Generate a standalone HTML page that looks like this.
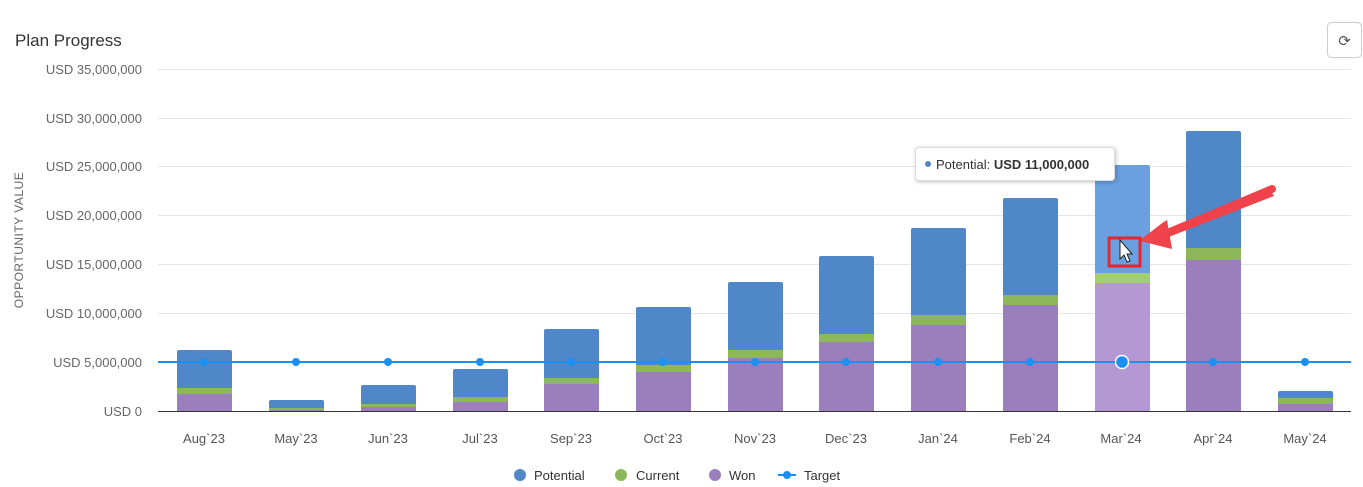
<!DOCTYPE html>
<html><head><meta charset="utf-8"><style>
body{margin:0;background:#fff;}
svg{display:block;font-family:"Liberation Sans",Arial,sans-serif;}
</style></head><body>
<svg width="1363" height="487" viewBox="0 0 1363 487" xmlns="http://www.w3.org/2000/svg">
<rect width="1363" height="487" fill="#fff"/>
<text x="15" y="46" font-size="17" fill="#333">Plan Progress</text>
<rect x="1327.5" y="22.5" width="34" height="35" rx="4" fill="#fff" stroke="#ccc"/>
<text x="1344.5" y="46" font-size="15" fill="#555" text-anchor="middle">⟳</text>
<g stroke="#e6e6e6" stroke-width="1">
<line x1="158" y1="69.5" x2="1351" y2="69.5"/>
<line x1="158" y1="118.5" x2="1351" y2="118.5"/>
<line x1="158" y1="166.5" x2="1351" y2="166.5"/>
<line x1="158" y1="215.5" x2="1351" y2="215.5"/>
<line x1="158" y1="264.5" x2="1351" y2="264.5"/>
<line x1="158" y1="313.5" x2="1351" y2="313.5"/>
<line x1="158" y1="362.5" x2="1351" y2="362.5"/>
</g>
<g font-size="13" fill="#666" text-anchor="end">
<text x="142" y="74">USD 35,000,000</text>
<text x="142" y="123">USD 30,000,000</text>
<text x="142" y="171">USD 25,000,000</text>
<text x="142" y="220">USD 20,000,000</text>
<text x="142" y="269">USD 15,000,000</text>
<text x="142" y="318">USD 10,000,000</text>
<text x="142" y="367">USD 5,000,000</text>
<text x="142" y="416">USD 0</text>
</g>
<text transform="translate(23,240) rotate(-90)" font-size="12" fill="#666" text-anchor="middle" letter-spacing="0.5">OPPORTUNITY VALUE</text>
<g id="bars">
<!-- Aug -->
<rect x="177" y="350" width="55" height="61" rx="2" fill="#4f87c9"/><rect x="177" y="388" width="55" height="6" fill="#8db85a"/><rect x="177" y="394" width="55" height="17" fill="#9a7fbc"/>
<rect x="269" y="400" width="55" height="11" rx="2" fill="#4f87c9"/><rect x="269" y="408" width="55" height="2" fill="#8db85a"/><rect x="269" y="410" width="55" height="1" fill="#9a7fbc"/>
<rect x="361" y="385" width="55" height="26" rx="2" fill="#4f87c9"/><rect x="361" y="404" width="55" height="3" fill="#8db85a"/><rect x="361" y="407" width="55" height="4" fill="#9a7fbc"/>
<rect x="453" y="369" width="55" height="42" rx="2" fill="#4f87c9"/><rect x="453" y="397" width="55" height="5" fill="#8db85a"/><rect x="453" y="402" width="55" height="9" fill="#9a7fbc"/>
<rect x="544" y="329" width="55" height="82" rx="2" fill="#4f87c9"/><rect x="544" y="378" width="55" height="6" fill="#8db85a"/><rect x="544" y="384" width="55" height="27" fill="#9a7fbc"/>
<rect x="636" y="307" width="55" height="104" rx="2" fill="#4f87c9"/><rect x="636" y="365" width="55" height="7" fill="#8db85a"/><rect x="636" y="372" width="55" height="39" fill="#9a7fbc"/>
<rect x="728" y="282" width="55" height="129" rx="2" fill="#4f87c9"/><rect x="728" y="350" width="55" height="8" fill="#8db85a"/><rect x="728" y="358" width="55" height="53" fill="#9a7fbc"/>
<rect x="819" y="256" width="55" height="155" rx="2" fill="#4f87c9"/><rect x="819" y="334" width="55" height="8" fill="#8db85a"/><rect x="819" y="342" width="55" height="69" fill="#9a7fbc"/>
<rect x="911" y="228" width="55" height="183" rx="2" fill="#4f87c9"/><rect x="911" y="315" width="55" height="10" fill="#8db85a"/><rect x="911" y="325" width="55" height="86" fill="#9a7fbc"/>
<rect x="1003" y="198" width="55" height="213" rx="2" fill="#4f87c9"/><rect x="1003" y="295" width="55" height="10" fill="#8db85a"/><rect x="1003" y="305" width="55" height="106" fill="#9a7fbc"/>
<rect x="1095" y="165" width="55" height="246" rx="2" fill="#6a9fe0"/><rect x="1095" y="273" width="55" height="10" fill="#a2d070"/><rect x="1095" y="283" width="55" height="128" fill="#b398d4"/>
<rect x="1186" y="131" width="55" height="280" rx="2" fill="#4f87c9"/><rect x="1186" y="248" width="55" height="12" fill="#8db85a"/><rect x="1186" y="260" width="55" height="151" fill="#9a7fbc"/>
<rect x="1278" y="391" width="55" height="20" rx="2" fill="#4f87c9"/><rect x="1278" y="398" width="55" height="6" fill="#8db85a"/><rect x="1278" y="404" width="55" height="7" fill="#9a7fbc"/>
</g>
<line x1="158" y1="411.5" x2="1351" y2="411.5" stroke="#333" stroke-width="1"/>
<line x1="158" y1="362" x2="1351" y2="362" stroke="#1a90f0" stroke-width="2"/>
<g fill="#1a90f0">
<circle cx="204" cy="362" r="4"/><circle cx="296" cy="362" r="4"/><circle cx="388" cy="362" r="4"/><circle cx="480" cy="362" r="4"/><circle cx="571" cy="362" r="4"/><circle cx="663" cy="362" r="4"/><circle cx="755" cy="362" r="4"/><circle cx="846" cy="362" r="4"/><circle cx="938" cy="362" r="4"/><circle cx="1030" cy="362" r="4"/><circle cx="1213" cy="362" r="4"/><circle cx="1305" cy="362" r="4"/>
<circle cx="1122" cy="362" r="6.5" stroke="#fff" stroke-width="1.5"/>
</g>
<g font-size="13" fill="#555" text-anchor="middle">
<text x="204" y="443">Aug`23</text><text x="296" y="443">May`23</text><text x="388" y="443">Jun`23</text><text x="480" y="443">Jul`23</text><text x="571" y="443">Sep`23</text><text x="663" y="443">Oct`23</text><text x="755" y="443">Nov`23</text><text x="846" y="443">Dec`23</text><text x="938" y="443">Jan`24</text><text x="1030" y="443">Feb`24</text><text x="1121" y="443">Mar`24</text><text x="1213" y="443">Apr`24</text><text x="1305" y="443">May`24</text>
</g>
<g font-size="13" fill="#333">
<circle cx="520" cy="475" r="6" fill="#4f87c9"/><text x="534" y="480">Potential</text>
<circle cx="621" cy="475" r="6" fill="#8db85a"/><text x="636" y="480">Current</text>
<circle cx="715" cy="475" r="6" fill="#9a7fbc"/><text x="729" y="480">Won</text>
<line x1="778" y1="475" x2="796" y2="475" stroke="#1a90f0" stroke-width="2"/><circle cx="787" cy="475" r="4" fill="#1a90f0"/><text x="804" y="480">Target</text>
</g>
<rect x="915.5" y="147.5" width="199" height="33" rx="3" fill="#fff" stroke="#ddd" filter="drop-shadow(1px 1px 2px rgba(0,0,0,0.25))"/>
<circle cx="928" cy="164" r="3" fill="#4f87c9"/>
<text x="936" y="169" font-size="13" fill="#333">Potential: <tspan font-weight="bold">USD 11,000,000</tspan></text>
<path d="M1270,190 L1160,234 L1165,221 L1140,240 L1172,247 L1166,238 L1274,196 Z" fill="#f0424a"/>
<line x1="1272" y1="189" x2="1165" y2="234" stroke="#f0424a" stroke-width="8" stroke-linecap="round"/>
<polygon points="1140,241 1167,220 1172,249" fill="#f0424a"/>
<rect x="1109" y="238" width="31" height="28" fill="none" stroke="#e8262e" stroke-width="3"/>
<path d="M1120,240 L1120,259 L1124,255 L1127,262 L1130,261 L1127,254 L1132,254 Z" fill="#fff" stroke="#222" stroke-width="1"/>
</svg>
</body></html>
